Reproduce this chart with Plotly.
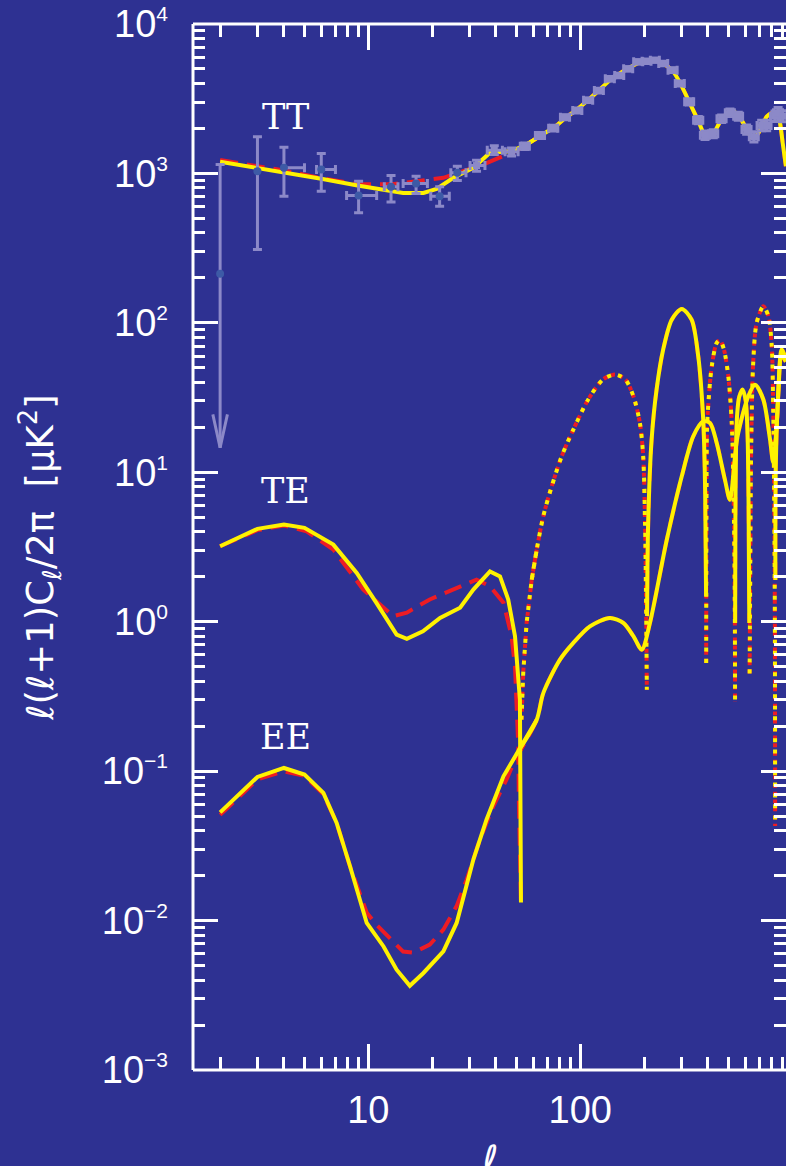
import math
import plotly.graph_objects as go

# ---------------- colours ----------------
BG = "#2e3192"
YELLOW = "#fff200"
RED = "#ed1c24"
DATA = "#8c89c8"
DOT = "#3d5aa6"
WHITE = "#ffffff"

# ---------------- TT band powers (binned) ----------------
TT_L = [3, 4, 6, 9, 12.8, 16.8, 21.7, 26.3, 32.4, 39.3, 47.4, 54.8, 64.6, 74.6, 84.8,
        96.9, 109, 122.5, 138, 152.8, 168.4, 187.8, 205.6, 225, 246.4, 272.8, 295,
        326.6, 360.3, 387.5, 424, 464.3, 508, 556, 609, 659, 717, 757, 829, 857, 901]
TT = [1035, 1090, 1062, 711, 813, 856, 704, 1009, 1129, 1430, 1394, 1521, 1794, 2008,
      2378, 2636, 3090, 3589, 4299, 4522, 5012, 5585, 5636, 5724, 5441, 4909, 3996,
      3014, 2271, 1802, 1841, 2319, 2545, 2415, 1966, 1758, 2093, 2093, 2415, 2545, 2415]
TT_ERR_HI = [723, 407, 298, 176, 155, 102, 109, 108, 96, 100, 86, 80, 86, 92, 92, 104,
             110, 131, 151, 158, 168, 185, 184, 186, 189, 181, 164, 146, 129, 118, 119,
             141, 155, 155, 144, 142, 177, 177, 205, 215, 215]
TT_ERR_LO = [725, 386, 302, 166, 168, 123, 100, 113, 94, 90, 84, 76, 84, 88, 88, 96,
             110, 129, 149, 152, 162, 185, 186, 184, 181, 179, 156, 144, 121, 112, 111,
             129, 145, 145, 136, 133, 163, 163, 185, 195, 195]
TT_BIN_LO = [0, 0, 0.3, 1.1, 0.9, 2.2, 2.0, 1.8, 2.2, 2.9, 3.2, 2.7, 3.2, 3.7, 4.2, 4.8,
             5.4, 6, 6.8, 7.5, 8.3, 9.3, 10, 11, 12, 13.5, 14.5, 16, 18, 19, 21, 23, 25,
             27, 30, 32, 35, 37, 40, 42, 44]
TT_BIN_HI = [0, 1, 1, 1.95, 1.0, 2.2, 2.4, 2.6, 3.1, 3.6, 3.5, 2.7, 3.2, 3.7, 4.2, 4.8,
             5.4, 6, 6.8, 7.5, 8.3, 9.3, 10, 11, 12, 13.5, 14.5, 16, 18, 19, 21, 23, 25,
             27, 30, 32, 35, 37, 40, 42, 44]

# quadrupole: central value, top of its error bar, and the lower-limit arrow tip
TT_Q_L = 2
TT_Q = 213
TT_Q_UPPER = 1147
TT_Q_TIP = 14.6

# ---------------- best-fit model spectra ----------------
MODEL_TT_L = [2, 3, 4, 6, 8.9, 11.8, 14.6, 18.2, 21, 25.2, 31.3, 37.5, 47, 55, 65, 75,
              85, 97, 109, 122, 138, 153, 168, 188, 206, 225, 246, 273, 295, 327, 360,
              394, 424, 464, 517, 556, 609, 644, 680, 717, 757, 810, 850, 875, 901, 933]
MODEL_TT = [1197, 1090, 1018, 920, 830, 772, 741, 741, 789, 935, 1090, 1374, 1410, 1540,
            1790, 2030, 2350, 2700, 3100, 3580, 4200, 4650, 5050, 5500, 5700, 5720, 5450,
            4850, 4050, 3000, 2250, 1730, 1850, 2300, 2640, 2450, 1990, 1730, 1800, 2050,
            2400, 2550, 2560, 2180, 1600, 1117]

# TE is signed: negative stretches are drawn as |TE| with a dotted line
TE_L = [2, 3, 4, 5, 6.84, 8.82, 10.9, 13.6, 15.2, 18.1, 21.8, 27.1, 31.3, 37.5, 41.8,
        45.7, 49.2, 51.9, 52.5,
        52.8, 53.8, 55.8, 59, 62.3, 66.9, 73.3, 81.7, 92.7, 109, 128, 146, 163, 178, 191,
        198, 202, 204, 206,
        206.5, 209, 217, 229, 246, 270, 301, 335, 360, 380, 388, 392,
        392.5, 393.5, 396, 401, 417, 440, 456, 476, 499, 518, 531, 536, 537,
        537.5, 539, 543, 550, 562, 583, 603, 615, 622, 627,
        629, 631, 640, 654, 679, 730, 771, 800, 813, 820, 826, 828, 830,
        832, 836, 860, 891, 933]
TE = [3.20, 4.18, 4.47, 4.25, 3.28, 2.12, 1.34, 0.82, 0.767, 0.863, 1.06, 1.24, 1.64,
      2.17, 2.01, 1.41, 0.80, 0.30, 0.0132,
      -0.221, -0.454, -0.98, -1.91, -3.04, -5.08, -8.05, -12.8, -19.3, -30.7, -41.8,
      -45.1, -41.8, -32.3, -21.4, -12.8, -4.58, -1.64, -0.35,
      1.09, 4.58, 16.6, 35.8, 66.3, 105, 124, 105, 59.7, 22.5, 7.66, 1.48,
      -0.53, -5, -19, -27.7, -51.3, -73.5, -76.5, -66.3, -44, -21.4, -4.58, -0.98, -0.29,
      0.98, 5, 15, 25, 32, 35.8, 30, 18, 6, 0.98,
      -0.45, -0.93, -15, -54, -100, -129, -111, -69.7, -25, -8.93, -1.91, -0.76, -0.043,
      1.9, 11, 35, 60, 55]

EE_L = [2, 3, 4, 5, 6.14, 7.09, 8.2, 9.83, 11.8, 13.6, 15.7, 18.2, 22.6, 26.1, 31.3,
        36.1, 43.4, 51, 62.3, 66.9, 80.2, 92.7, 111, 138, 160, 178, 195, 213, 256, 301,
        341, 380, 409, 440, 481, 508, 550, 620, 667, 730, 785, 813, 847, 891, 933]
EE = [0.053, 0.0914, 0.105, 0.0948, 0.0715, 0.045, 0.0231, 0.00964, 0.00671, 0.00469,
      0.00366, 0.00446, 0.00622, 0.00964, 0.0256, 0.0473, 0.0923, 0.136, 0.221, 0.333,
      0.557, 0.721, 0.93, 1.06, 0.98, 0.80, 0.65, 0.98, 3.55, 9.4, 17.4, 21.9, 21.4,
      15.7, 8.93, 6.56, 17, 32.3, 38.6, 30.7, 16.6, 11.6, 22.5, 66.3, 56.8]

# ---------------- alternative model (low multipoles differ) ----------------
ALT_TT_L = [2, 4, 6, 9, 11.5, 13, 16.9, 22.6, 28, 35, 43, 50, 55]
ALT_TT = [1230, 1045, 930, 845, 845, 848, 887, 935, 1035, 1150, 1300, 1420, 1540]
ALT_TE_L = [2, 3, 4, 5.12, 6.84, 9.47, 13.1, 15.2, 19.5, 26.1, 32.4, 37.5, 43.4, 47.4,
            49.2, 51, 51.3]
ALT_TE = [3.2, 4.1, 4.4, 4.03, 3.04, 1.64, 1.09, 1.15, 1.41, 1.68, 1.91, 1.73, 1.34,
          0.80, 0.50, 0.147, 0.064]
ALT_EE_L = [2, 3, 4, 5, 6.14, 7.09, 8.2, 9.83, 10.9, 14.6, 16.3, 19.5, 22.6, 26.1, 29.1,
            33.6, 38.8, 44.9, 49.2, 62.3]
ALT_EE = [0.051, 0.088, 0.0997, 0.093, 0.07, 0.045, 0.023, 0.0113, 0.0094, 0.0062,
          0.0061, 0.0069, 0.0087, 0.0125, 0.0188, 0.0348, 0.058, 0.088, 0.119, 0.221]

# axis tick labels
X_TICKS = [10, 100, 1000]
X_TICKTEXT = ["10", "100", "1000"]
Y_EXPONENTS = [-3, -2, -1, 0, 1, 2, 3, 4]

fig = go.Figure()


def sign_runs(ls, vs):
    runs = []
    for l, v in zip(ls, vs):
        pos = v > 0
        if runs and runs[-1][0] == pos:
            runs[-1][1].append((l, abs(v)))
        else:
            runs.append((pos, [(l, abs(v))]))
    return runs


def add_curve(pts, color, dash, width):
    # polyline at low multipoles, smoothed above l ~ 60
    i = next((k for k, (l, _) in enumerate(pts) if l > 60), len(pts))
    parts = []
    if i > 0:
        parts.append((pts[:i + 1], "linear"))
    if i < len(pts):
        parts.append((pts[max(i - 1, 0):], "spline"))
    for p, shape in parts:
        if len(p) < 2:
            continue
        line = dict(color=color, dash=dash, width=width, shape=shape)
        if shape == "spline":
            line["smoothing"] = 0.8
        fig.add_trace(go.Scatter(x=[a for a, _ in p], y=[b for _, b in p], mode="lines",
                                 line=line, hoverinfo="skip"))


RED_DASH = "18px,9px"
RED_DOT = "4px,4px"
YEL_DOT = "4px,7px"

# --- alternative model (red), drawn underneath ---
alt_tt = list(zip(ALT_TT_L, ALT_TT)) + [(l, v) for l, v in zip(MODEL_TT_L, MODEL_TT) if l > ALT_TT_L[-1]]
add_curve(alt_tt, RED, RED_DASH, 4)
alt_te_l = ALT_TE_L + [l for l in TE_L if l > 52]
alt_te_v = ALT_TE + [v for l, v in zip(TE_L, TE) if l > 52]
for pos, pts in sign_runs(alt_te_l, alt_te_v):
    add_curve(pts, RED, RED_DASH if pos else RED_DOT, 4)
alt_ee = list(zip(ALT_EE_L, ALT_EE)) + [(l, v) for l, v in zip(EE_L, EE) if l > ALT_EE_L[-1]]
add_curve(alt_ee, RED, RED_DASH, 4)

# --- best fit (yellow) ---
add_curve(list(zip(MODEL_TT_L, MODEL_TT)), YELLOW, "solid", 4)
for pos, pts in sign_runs(TE_L, TE):
    add_curve(pts, YELLOW, "solid" if pos else YEL_DOT, 4)
add_curve(list(zip(EE_L, EE)), YELLOW, "solid", 4)

# --- TT measurements: wide low-l bins show a dot, narrow high-l bins read as boxes ---
low = [k for k, l in enumerate(TT_L) if l < 30]
high = [k for k, l in enumerate(TT_L) if l >= 30]
for idx, mk in ((low, dict(color=DOT, size=8)), (high, dict(color=DATA, size=7, symbol="square"))):
    fig.add_trace(go.Scatter(
        x=[TT_L[k] for k in idx], y=[TT[k] for k in idx], mode="markers",
        marker=mk,
        error_y=dict(type="data", symmetric=False,
                     array=[TT_ERR_HI[k] for k in idx],
                     arrayminus=[TT_ERR_LO[k] for k in idx],
                     color=DATA, thickness=3, width=4.5),
        error_x=dict(type="data", symmetric=False,
                     array=[TT_BIN_HI[k] for k in idx],
                     arrayminus=[TT_BIN_LO[k] for k in idx],
                     color=DATA, thickness=3, width=4.5),
        hoverinfo="skip"))

# quadrupole: error bar to the top, lower limit as a downward arrow
cap = 10 ** (4.5 / 212)
wing_x = 10 ** (7.3 / 212)
wing_y = 10 ** (33.3 / 149.4)
fig.add_trace(go.Scatter(x=[TT_Q_L, TT_Q_L], y=[TT_Q_UPPER, TT_Q_TIP], mode="lines",
                         line=dict(color=DATA, width=3), hoverinfo="skip"))
fig.add_trace(go.Scatter(x=[TT_Q_L / cap, TT_Q_L * cap], y=[TT_Q_UPPER, TT_Q_UPPER],
                         mode="lines", line=dict(color=DATA, width=3), hoverinfo="skip"))
fig.add_trace(go.Scatter(x=[TT_Q_L / wing_x, TT_Q_L, TT_Q_L * wing_x],
                         y=[TT_Q_TIP * wing_y, TT_Q_TIP, TT_Q_TIP * wing_y],
                         mode="lines", line=dict(color=DATA, width=3), hoverinfo="skip"))
fig.add_trace(go.Scatter(x=[TT_Q_L], y=[TT_Q], mode="markers",
                         marker=dict(color=DOT, size=8), hoverinfo="skip"))

# ---------------- axes ----------------
x_minor = [m * 10 ** k for k in range(0, 3) for m in range(2, 10)]
y_minor = [m * 10.0 ** k for k in range(-3, 4) for m in range(2, 10)]


def sup(e):
    s = str(e).replace("-", "\u2212")
    return "10<sup><span style='font-size:21px'>%s</span></sup>" % s


x_lo = 1 + (193 - 368.3) / 212
x_hi = 1 + (786 - 368.3) / 212

fig.update_xaxes(
    type="log", range=[x_lo, x_hi], showline=False, showgrid=False, zeroline=False,
    ticks="inside", ticklen=26, tickwidth=3, tickcolor=WHITE, mirror="ticks",
    tickmode="array", tickvals=X_TICKS, ticktext=X_TICKTEXT,
    tickfont=dict(family="Liberation Sans", size=38, color=WHITE),
    ticklabelstandoff=14,
    minor=dict(tickmode="array", tickvals=x_minor, ticks="inside", ticklen=13,
               tickwidth=3, tickcolor=WHITE, showgrid=False),
)
fig.update_yaxes(
    type="log", range=[-3, 4], showline=False, showgrid=False, zeroline=False,
    ticks="inside", ticklen=25, tickwidth=3, tickcolor=WHITE, mirror="ticks",
    tickmode="array", tickvals=[10.0 ** e for e in Y_EXPONENTS],
    ticktext=[sup(e) for e in Y_EXPONENTS],
    tickfont=dict(family="Liberation Sans", size=38, color=WHITE),
    ticklabelstandoff=24,
    minor=dict(tickmode="array", tickvals=y_minor, ticks="inside", ticklen=12,
               tickwidth=3, tickcolor=WHITE, showgrid=False),
)

frame = dict(color=WHITE, width=3)
shapes = [
    dict(type="line", xref="paper", yref="paper", x0=0, x1=0, y0=0, y1=1, line=frame),
    dict(type="line", xref="paper", yref="paper", x0=0, x1=1, y0=1, y1=1, line=frame),
    dict(type="line", xref="paper", yref="paper", x0=0, x1=1, y0=0, y1=0, line=frame),
]

label_font = dict(family="DejaVu Serif", size=35, color=WHITE)
annotations = [
    dict(x=math.log10(4.05), y=math.log10(2390), xref="x", yref="y", text="TT",
         showarrow=False, font=label_font),
    dict(x=math.log10(4.05), y=math.log10(7.55), xref="x", yref="y", text="TE",
         showarrow=False, font=label_font),
    dict(x=math.log10(4.05), y=math.log10(0.169), xref="x", yref="y", text="EE",
         showarrow=False, font=label_font),
    dict(x=-0.258, y=0.4897, xref="paper", yref="paper", textangle=-90,
         text="\u2113(\u2113+1)C<sub>\u2113</sub>/2\u03c0  [\u03bcK<sup>2</sup>]",
         showarrow=False, xanchor="center", yanchor="middle",
         font=dict(family="DejaVu Sans", size=37, color=WHITE)),
    dict(x=0.5008, y=-0.062, xref="paper", yref="paper", text="\u2113",
         showarrow=False, xanchor="center", yanchor="top",
         font=dict(family="DejaVu Sans", size=40, color=WHITE, style="italic")),
]

fig.update_layout(
    width=786, height=1166,
    margin=dict(l=193, r=0, t=24, b=96),
    paper_bgcolor=BG, plot_bgcolor=BG,
    showlegend=False,
    shapes=shapes, annotations=annotations,
)

fig.write_html("out.html")
